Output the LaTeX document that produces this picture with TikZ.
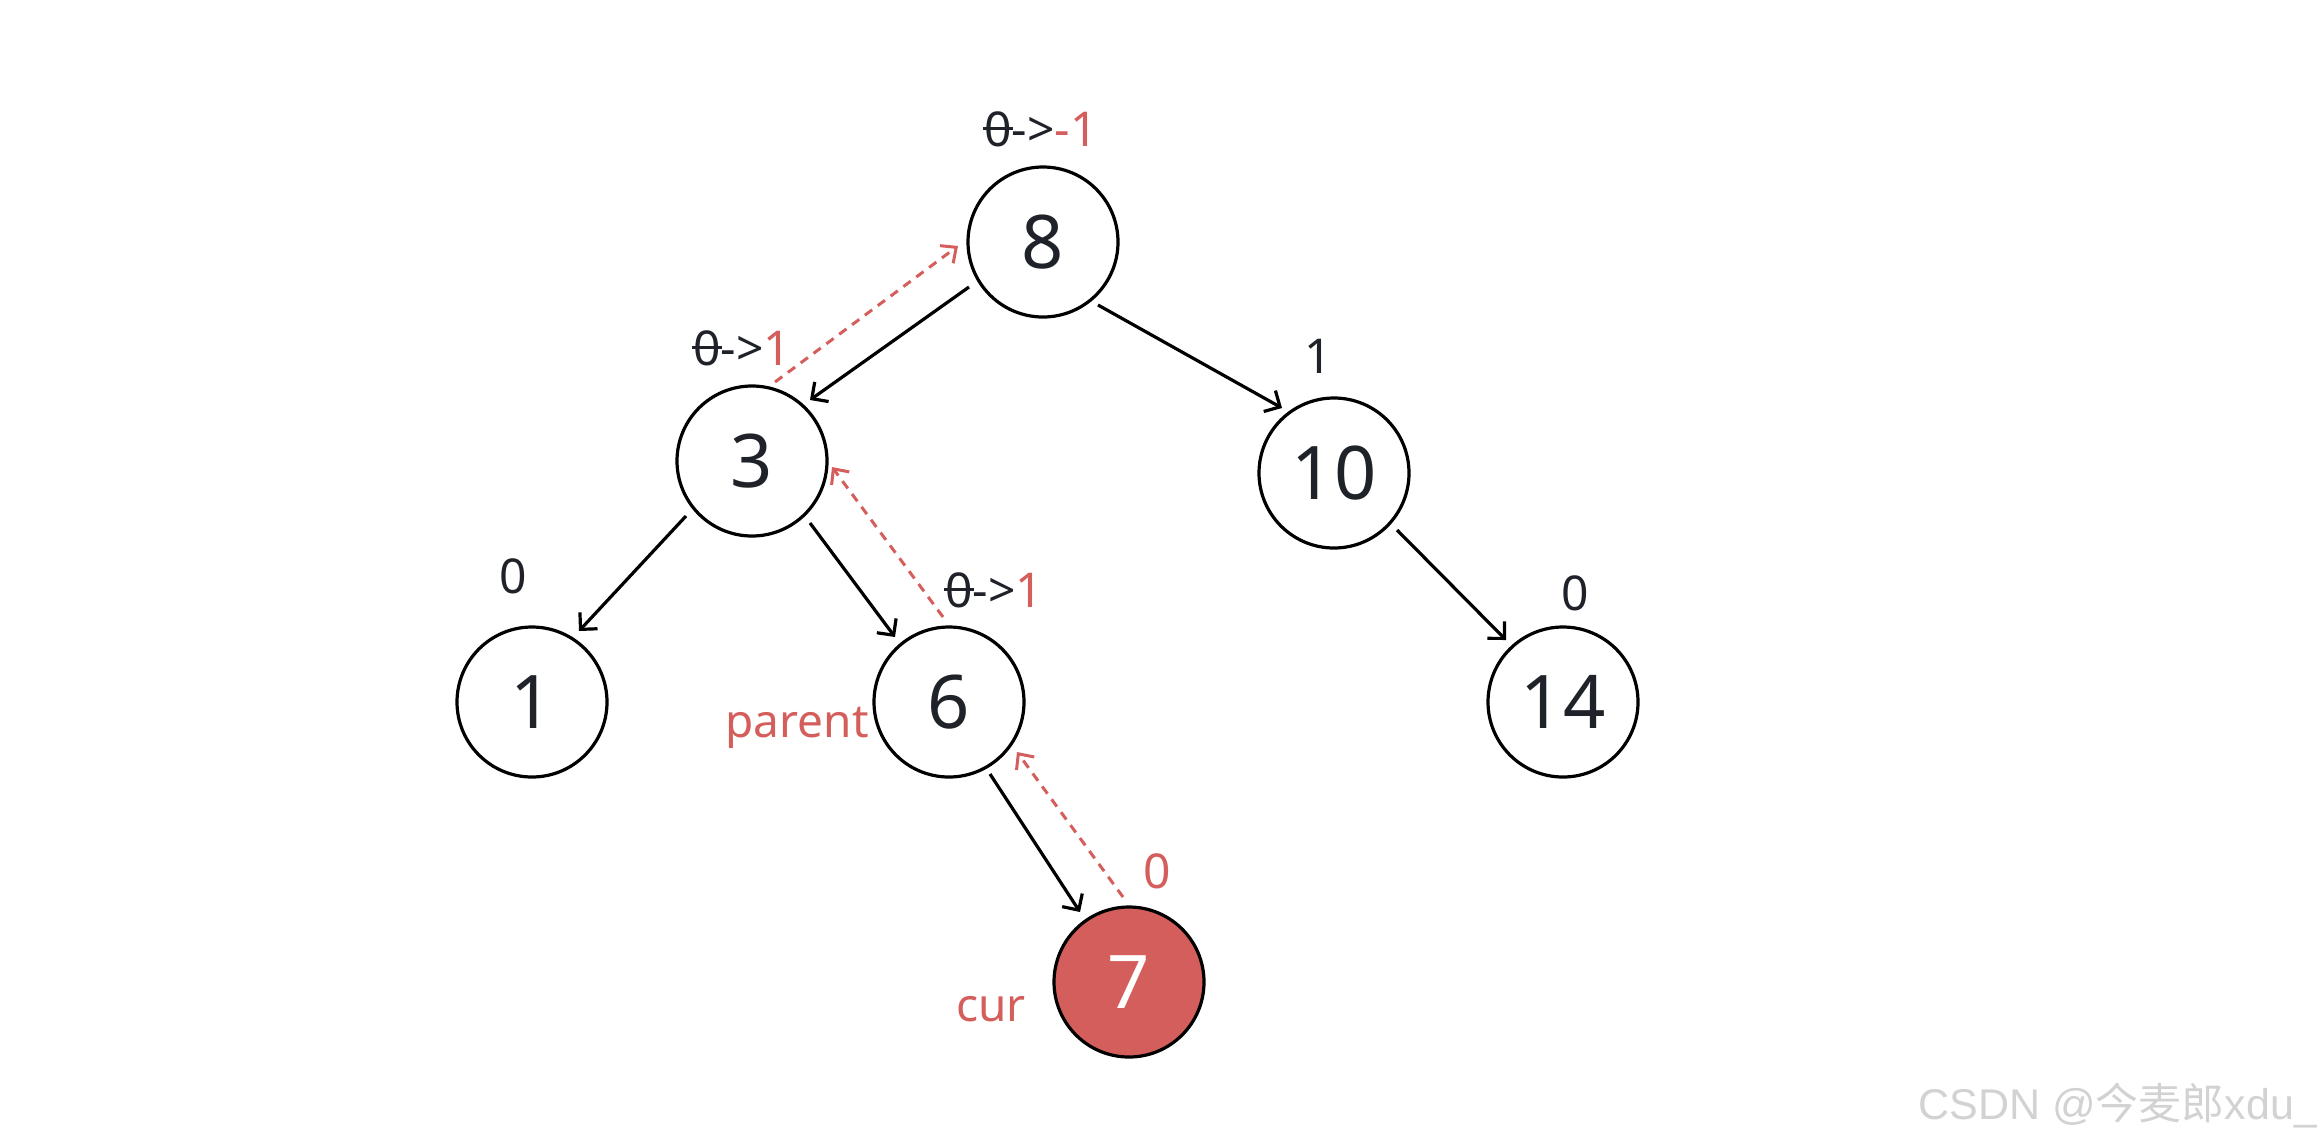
\documentclass[tikz,border=0pt]{standalone}
\usepackage{fontspec}
\setmainfont{Noto Sans}
\newfontfamily\wmfont{Liberation Sans}
\newfontfamily\cjk{Noto Sans CJK SC}
\usetikzlibrary{arrows.meta,calc}
\definecolor{ink}{RGB}{31,35,41}
\definecolor{hl}{RGB}{212,94,92}
\definecolor{wm}{RGB}{210,210,210}
\newcommand\zstrike{\rlap{\kern-0.02em\rule[0.34em]{0.62em}{0.06em}}0}
\begin{document}
\begin{tikzpicture}[x=0.5pt,y=-0.5pt,
  tnode/.style={circle,draw=black,line width=1.6pt,minimum size=75pt,inner sep=0pt,
    font=\fontsize{37}{40}\selectfont,text=ink},
  curnode/.style={tnode,fill=hl,text=white},
  edge/.style={line width=1.6pt,-{Straight Barb[length=6pt,width=12pt]}},
  back/.style={hl,line width=1.5pt,dash pattern=on 4.5pt off 3.5pt,
    -{Straight Barb[length=6pt,width=11pt]}},
  lab/.style={inner sep=0pt,font=\fontsize{24}{28}\selectfont,text=ink},
  rlab/.style={lab,text=hl,font=\fontsize{23}{28}\selectfont},
  wmark/.style={inner sep=0pt,text=wm,font=\fontsize{21.5}{24}\selectfont}
]
\useasboundingbox (0,0) rectangle (2317,1142);

% tree nodes
\node[tnode] (n8)  at (1043,242) {8};
\node[tnode] (n3)  at (752,461)  {3};
\node[tnode] (n10) at (1334,473) {10};
\node[tnode] (n1)  at (532,702)  {1};
\node[tnode] (n6)  at (949,702)  {6};
\node[tnode] (n14) at (1563,702) {14};
\node[curnode] (n7) at (1129,982) {7};

% child edges
\draw[edge] ($(n8)+(-74,45)$)  -- ($(n3)+(58,-61)$);
\draw[edge] ($(n8)+(55,63)$)   -- ($(n10)+(-52,-65)$);
\draw[edge] ($(n3)+(-66,55)$)  -- ($(n1)+(47,-71)$);
\draw[edge] ($(n3)+(58,62)$)   -- ($(n6)+(-54,-65)$);
\draw[edge] ($(n10)+(63,57)$)  -- ($(n14)+(-57,-62)$);
\draw[edge] ($(n6)+(41,72)$)   -- ($(n7)+(-49,-70)$);

% balance-factor update path
\draw[back] ($(n7)+(-6,-85)$) -- ($(n6)+(68,50)$);
\draw[back] ($(n6)+(-6,-85)$) -- ($(n3)+(80,6)$);
\draw[back] ($(n3)+(23,-79)$) -- ($(n8)+(-85,4)$);

% balance labels
\node[lab,anchor=base] (b8) at (1041,146) {\zstrike->\textcolor{hl}{-1}};
\node[lab,anchor=base west] (b3) at (693,365) {\zstrike->\textcolor{hl}{1}};
\node[lab,anchor=base west] (b6) at (945,607) {\zstrike->\textcolor{hl}{1}};
\node[lab,anchor=base] (b10) at (1318,373) {1};
\node[lab,anchor=base] (b1) at (513,593) {0};
\node[lab,anchor=base] (b14) at (1575,610) {0};
\node[lab,anchor=base,text=hl] (b7) at (1157,888) {0};

% pointer labels
\node[rlab,anchor=base east] (lparent) at (869,737) {parent};
\node[rlab,anchor=base east] (lcur) at (1026,1021) {cur};

% watermark
\node[wmark,anchor=base west] (wm) at (1918,1119) {{\wmfont CSDN @}{\cjk 今麦郎}{\wmfont xdu\_}};
\end{tikzpicture}
\end{document}
